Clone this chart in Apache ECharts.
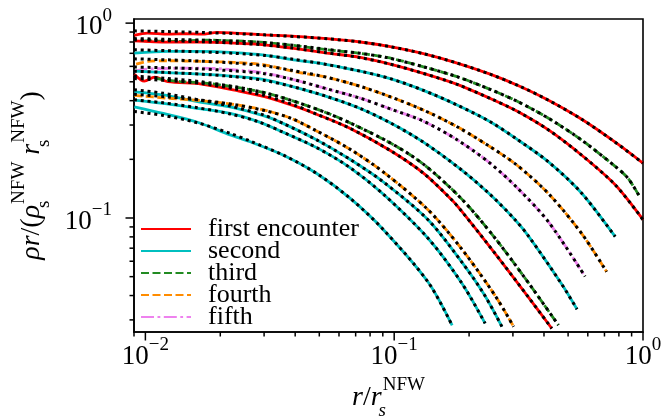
<!DOCTYPE html>
<html><head><meta charset="utf-8">
<script src="https://cdn.jsdelivr.net/npm/echarts@6/dist/echarts.min.js"></script>
<style>html,body{margin:0;padding:0;background:#fff}#c{width:671px;height:418px}</style>
</head><body><div id="c"></div>
<script>
const FONT = "'Liberation Serif', 'DejaVu Serif', serif";
const X_MIN = 0.009, X_MAX = 1, Y_MIN = 0.026, Y_MAX = 1.05;
const xMajorTicks = [0.01, 0.1, 1];
const xMinorTicks = [0.009, 0.02, 0.03, 0.04, 0.05, 0.06, 0.07, 0.08, 0.09, 0.2, 0.3, 0.4, 0.5, 0.6, 0.7, 0.8, 0.9];
const yMajorTicks = [0.1, 1];
const yMinorTicks = [0.03, 0.04, 0.05, 0.06, 0.07, 0.08, 0.09, 0.2, 0.3, 0.4, 0.5, 0.6, 0.7, 0.8, 0.9];
const legendNames = ['first encounter', 'second', 'third', 'fourth', 'fifth'];

// measured profiles [r / r_s, rho r / (rho_s r_s)]
const firstA = [[0.00903,0.865],[0.0102,0.889],[0.0123,0.878],[0.0145,0.882],[0.0168,0.878],[0.0195,0.896],[0.0228,0.889],[0.0301,0.871],[0.040,0.855],[0.0537,0.832],[0.073,0.800],[0.0964,0.757],[0.131,0.697],[0.179,0.624],[0.243,0.547],[0.321,0.473],[0.417,0.402],[0.567,0.321],[0.773,0.245],[1.0,0.191]];
const thirdA = [[0.0099,0.811],[0.0138,0.806],[0.0168,0.818],[0.0228,0.811],[0.029,0.799],[0.0394,0.768],[0.0537,0.730],[0.073,0.700],[0.0935,0.667],[0.131,0.597],[0.179,0.531],[0.243,0.457],[0.311,0.398],[0.417,0.325],[0.567,0.251],[0.773,0.184],[0.87,0.160],[0.965,0.130]];
const firstB = [[0.00903,0.811],[0.0123,0.799],[0.0168,0.799],[0.0228,0.790],[0.0301,0.774],[0.0394,0.742],[0.0537,0.702],[0.073,0.667],[0.0964,0.616],[0.131,0.552],[0.179,0.485],[0.243,0.411],[0.311,0.354],[0.417,0.283],[0.567,0.210],[0.773,0.148],[1.0,0.098]];
const secondA = [[0.00903,0.702],[0.0123,0.716],[0.0168,0.716],[0.0228,0.706],[0.0301,0.685],[0.0394,0.648],[0.0537,0.613],[0.073,0.567],[0.0964,0.519],[0.131,0.452],[0.179,0.380],[0.243,0.312],[0.311,0.254],[0.417,0.194],[0.567,0.134],[0.773,0.0802]];
const fourthA = [[0.00918,0.616],[0.0102,0.636],[0.0123,0.641],[0.0168,0.636],[0.0228,0.629],[0.0301,0.611],[0.0394,0.565],[0.0537,0.527],[0.073,0.474],[0.0964,0.419],[0.131,0.358],[0.179,0.294],[0.243,0.232],[0.311,0.187],[0.417,0.1334],[0.567,0.0832],[0.714,0.0530]];
const fifthA = [[0.00903,0.565],[0.00961,0.576],[0.0109,0.583],[0.0168,0.588],[0.0228,0.576],[0.0301,0.555],[0.0394,0.513],[0.0537,0.460],[0.073,0.412],[0.0964,0.363],[0.131,0.314],[0.179,0.252],[0.243,0.191],[0.312,0.143],[0.417,0.0955],[0.585,0.0501]];
const secondB = [[0.00903,0.567],[0.0109,0.561],[0.0168,0.547],[0.0228,0.533],[0.0301,0.513],[0.0394,0.471],[0.0537,0.420],[0.073,0.365],[0.0964,0.308],[0.131,0.245],[0.187,0.176],[0.243,0.132],[0.306,0.098],[0.346,0.081],[0.471,0.0458],[0.543,0.034]];
const firstC = [[0.00903,0.547],[0.0099,0.504],[0.0109,0.528],[0.0123,0.501],[0.0168,0.487],[0.0228,0.453],[0.0301,0.420],[0.0394,0.377],[0.049,0.340],[0.0666,0.288],[0.0964,0.222],[0.131,0.170],[0.171,0.1233],[0.187,0.108],[0.254,0.0659],[0.346,0.0393],[0.43,0.0271]];
const thirdB = [[0.011,0.520],[0.0138,0.501],[0.0168,0.495],[0.0228,0.470],[0.0301,0.440],[0.0394,0.398],[0.0537,0.346],[0.0666,0.307],[0.0964,0.243],[0.131,0.189],[0.187,0.125],[0.254,0.079],[0.346,0.0466],[0.457,0.0282]];
const fourthB = [[0.00903,0.426],[0.0123,0.412],[0.0168,0.400],[0.0228,0.382],[0.0301,0.358],[0.0382,0.326],[0.049,0.279],[0.0666,0.225],[0.0905,0.172],[0.137,0.110],[0.187,0.0692],[0.255,0.0398],[0.302,0.0277]];
const secondC = [[0.00903,0.444],[0.0118,0.428],[0.0162,0.395],[0.0219,0.372],[0.0298,0.335],[0.0359,0.305],[0.049,0.251],[0.0666,0.1995],[0.0905,0.153],[0.137,0.0977],[0.187,0.0594],[0.23,0.0405],[0.271,0.0277]];
const secondD = [[0.00903,0.403],[0.0118,0.387],[0.0162,0.365],[0.0219,0.344],[0.0282,0.313],[0.0359,0.275],[0.049,0.229],[0.0666,0.181],[0.0905,0.1324],[0.137,0.0785],[0.187,0.0463],[0.232,0.0288]];
const secondE = [[0.00903,0.372],[0.0118,0.344],[0.0162,0.310],[0.0219,0.267],[0.0264,0.246],[0.0359,0.210],[0.049,0.1687],[0.0666,0.126],[0.0905,0.0871],[0.137,0.0468],[0.171,0.0281]];

// NFW fits (dotted)
const fitFirstA = [[0.009,0.913],[0.0123,0.905],[0.0168,0.896],[0.0228,0.884],[0.0301,0.871],[0.040,0.853],[0.0537,0.832],[0.073,0.800],[0.0964,0.757],[0.131,0.697],[0.179,0.624],[0.243,0.547],[0.321,0.473],[0.417,0.402],[0.567,0.321],[0.773,0.245],[1.0,0.191]];
const fitThirdA = [[0.009,0.833],[0.0123,0.826],[0.0168,0.818],[0.0228,0.808],[0.029,0.797],[0.0394,0.770],[0.0537,0.733],[0.073,0.700],[0.0935,0.665],[0.131,0.597],[0.179,0.531],[0.243,0.457],[0.311,0.398],[0.417,0.325],[0.567,0.251],[0.773,0.184],[0.87,0.160],[0.965,0.130]];
const fitFirstB = [[0.009,0.820],[0.0123,0.812],[0.0168,0.803],[0.0228,0.790],[0.0301,0.773],[0.0394,0.744],[0.0537,0.704],[0.073,0.665],[0.0964,0.616],[0.131,0.552],[0.179,0.485],[0.243,0.411],[0.311,0.354],[0.417,0.283],[0.567,0.210],[0.773,0.148],[1.0,0.098]];
const fitSecondA = [[0.009,0.730],[0.0123,0.722],[0.0168,0.712],[0.0228,0.700],[0.0301,0.683],[0.0394,0.652],[0.0537,0.613],[0.073,0.567],[0.0964,0.519],[0.131,0.452],[0.179,0.380],[0.243,0.312],[0.311,0.254],[0.417,0.194],[0.567,0.134],[0.773,0.0802]];
const fitFourthA = [[0.009,0.656],[0.0123,0.648],[0.0168,0.638],[0.0228,0.624],[0.0301,0.604],[0.0394,0.570],[0.0537,0.527],[0.073,0.474],[0.0964,0.419],[0.131,0.358],[0.179,0.294],[0.243,0.232],[0.311,0.187],[0.417,0.1334],[0.567,0.0832],[0.714,0.0530]];
const fitFifthA = [[0.009,0.595],[0.0123,0.590],[0.0168,0.582],[0.0228,0.568],[0.0301,0.550],[0.0394,0.513],[0.0537,0.460],[0.073,0.412],[0.0964,0.363],[0.131,0.314],[0.179,0.252],[0.243,0.191],[0.312,0.143],[0.417,0.0955],[0.585,0.0501]];
const fitSecondB = [[0.009,0.567],[0.0123,0.558],[0.0168,0.547],[0.0228,0.531],[0.0301,0.508],[0.0394,0.471],[0.0537,0.420],[0.073,0.365],[0.0964,0.308],[0.131,0.245],[0.187,0.176],[0.243,0.132],[0.306,0.098],[0.346,0.081],[0.471,0.0458],[0.543,0.034]];
const fitFirstC = [[0.009,0.520],[0.0123,0.507],[0.0168,0.490],[0.0228,0.460],[0.0301,0.425],[0.0394,0.381],[0.049,0.340],[0.0666,0.288],[0.0964,0.222],[0.131,0.170],[0.171,0.1233],[0.187,0.108],[0.254,0.0659],[0.346,0.0393],[0.43,0.0271]];
const fitThirdB = [[0.009,0.535],[0.0123,0.520],[0.0168,0.500],[0.0228,0.472],[0.0301,0.440],[0.0394,0.398],[0.0537,0.346],[0.0666,0.307],[0.0964,0.243],[0.131,0.189],[0.187,0.125],[0.254,0.079],[0.346,0.0466],[0.457,0.0282]];
const fitFourthB = [[0.009,0.432],[0.0123,0.418],[0.0168,0.402],[0.0228,0.382],[0.0301,0.356],[0.0382,0.326],[0.049,0.279],[0.0666,0.225],[0.0905,0.172],[0.137,0.110],[0.187,0.0692],[0.255,0.0398],[0.302,0.0277]];
const fitSecondC = [[0.009,0.455],[0.0118,0.437],[0.0162,0.405],[0.0219,0.375],[0.0298,0.338],[0.0359,0.305],[0.049,0.251],[0.0666,0.1995],[0.0905,0.153],[0.137,0.0977],[0.187,0.0594],[0.23,0.0405],[0.271,0.0277]];
const fitSecondD = [[0.009,0.404],[0.0118,0.390],[0.0162,0.368],[0.0219,0.342],[0.0282,0.313],[0.0359,0.275],[0.049,0.229],[0.0666,0.181],[0.0905,0.1324],[0.137,0.0785],[0.187,0.0463],[0.232,0.0288]];
const fitSecondE = [[0.009,0.352],[0.0118,0.336],[0.0162,0.308],[0.0219,0.272],[0.0264,0.248],[0.0359,0.210],[0.049,0.1687],[0.0666,0.126],[0.0905,0.0871],[0.137,0.0468],[0.171,0.0281]];

const COLORS = {'first encounter':'#ff0000', 'second':'#00bfbf', 'third':'#228b22', 'fourth':'#ff8c00', 'fifth':'#ee82ee'};
const DASH = {'first encounter':'solid', 'second':'solid', 'third':[8,3.5], 'fourth':[8,3.5], 'fifth':[13,3.5,2.8,3.5]};

function profile(name, data) {
  return {type:'line', name, data, symbol:'none', showSymbol:false, silent:true, z:2, smooth:0.3,
    lineStyle:{color:COLORS[name], width:2.8, type:DASH[name], cap:'butt'}, itemStyle:{color:COLORS[name]}};
}
function fit(data) {
  return {type:'line', name:'NFW fit', data, symbol:'none', showSymbol:false, silent:true, z:3, smooth:0.3,
    lineStyle:{color:'#000', width:3, type:[3,3.8], cap:'butt'}, itemStyle:{color:'#000'}};
}
function ticks(values, dir, len) {
  return {type:'custom', name:'ticks', coordinateSystem:'cartesian2d', silent:true, clip:false, z:10,
    data: values.map(v => dir === 'x' ? [v, Y_MIN] : [X_MIN, v]),
    renderItem: (params, api) => {
      const p = api.coord([api.value(0), api.value(1)]);
      const shape = dir === 'x' ? {x1:p[0], y1:p[1], x2:p[0], y2:p[1] + len} : {x1:p[0], y1:p[1], x2:p[0] - len, y2:p[1]};
      return {type:'line', shape, style:{stroke:'#000', lineWidth:1.5}};
    }};
}
function powLabel(v) {
  const e = Math.round(Math.log10(v));
  if (Math.abs(Math.log10(v) - e) > 1e-6) return '';
  return '{b|10}{s|' + (e < 0 ? '\u2212' + (-e) : e) + '}';
}
const labelRich = {
  b:{fontFamily:FONT, fontSize:27, color:'#000', lineHeight:34, verticalAlign:'bottom'},
  s:{fontFamily:FONT, fontSize:19, color:'#000', lineHeight:19, verticalAlign:'top'}
};
const nameRich = {
  mi:{fontFamily:FONT, fontSize:28, fontStyle:'italic', color:'#000', lineHeight:44},
  m:{fontFamily:FONT, fontSize:28, color:'#000', lineHeight:44},
  sb:{fontFamily:FONT, fontSize:19, color:'#000', lineHeight:24, verticalAlign:'bottom', width:1},
  sbi:{fontFamily:FONT, fontSize:19, fontStyle:'italic', color:'#000', lineHeight:24, verticalAlign:'bottom', width:1},
  sp:{fontFamily:FONT, fontSize:19, color:'#000', lineHeight:22, verticalAlign:'top'}
};

const chart = echarts.init(document.getElementById('c'), null, {renderer:'canvas'});
chart.setOption({
  animation:false,
  backgroundColor:'#fff',
  grid:{left:134, right:28, top:19, bottom:86, show:true, borderColor:'#000', borderWidth:1.6, backgroundColor:'transparent', containLabel:false, outerBoundsMode:'none'},
  legend:{data:legendNames, orient:'vertical', left:135, top:216, padding:[0,0,0,5], itemWidth:50, itemHeight:12, itemGap:-4,
    itemStyle:{opacity:0}, textStyle:{fontFamily:FONT, fontSize:26, color:'#000', padding:[0,0,0,12]}, selectedMode:false},
  xAxis:{type:'log', logBase:10, min:X_MIN, max:X_MAX,
    axisLine:{show:true, lineStyle:{color:'#000', width:1.6}}, axisTick:{show:false}, minorTick:{show:false}, splitLine:{show:false}, minorSplitLine:{show:false},
    axisLabel:{formatter:powLabel, rich:labelRich, margin:4, color:'#000', showMinLabel:true, showMaxLabel:true, hideOverlap:false},
    name:'{mi|r}{m|/}{mi|r}{sbi|s}{sp|NFW}', nameLocation:'middle', nameGap:44, nameTextStyle:{rich:nameRich, fontFamily:FONT, fontSize:28, color:'#000'}},
  yAxis:{type:'log', logBase:10, min:Y_MIN, max:Y_MAX,
    axisLine:{show:true, lineStyle:{color:'#000', width:1.6}}, axisTick:{show:false}, minorTick:{show:false}, splitLine:{show:false}, minorSplitLine:{show:false},
    axisLabel:{formatter:powLabel, rich:labelRich, margin:22, color:'#000', showMinLabel:true, showMaxLabel:true, hideOverlap:false},
    name:'{mi|\u03c1r}{m|/(}{mi|\u03c1}{sb|s}{sp|NFW}{mi| r}{sb|s}{sp|NFW}{m|)}', nameLocation:'middle', nameRotate:90, nameGap:80,
    nameTextStyle:{rich:nameRich, fontFamily:FONT, fontSize:28, color:'#000'}},
  series:[
    profile('first encounter', firstA), profile('third', thirdA), profile('first encounter', firstB),
    profile('second', secondA), profile('fourth', fourthA), profile('fifth', fifthA), profile('second', secondB),
    profile('first encounter', firstC), profile('third', thirdB), profile('second', secondC),
    profile('fourth', fourthB), profile('second', secondD), profile('second', secondE),
    fit(fitFirstA), fit(fitThirdA), fit(fitFirstB), fit(fitSecondA), fit(fitFourthA), fit(fitFifthA),
    fit(fitSecondB), fit(fitFirstC), fit(fitThirdB), fit(fitFourthB), fit(fitSecondC), fit(fitSecondD), fit(fitSecondE),
    ticks(xMajorTicks, 'x', 8.5), ticks(xMinorTicks, 'x', 4.5), ticks(yMajorTicks, 'y', 8.5), ticks(yMinorTicks, 'y', 4.5)
  ]
});
</script></body></html>
